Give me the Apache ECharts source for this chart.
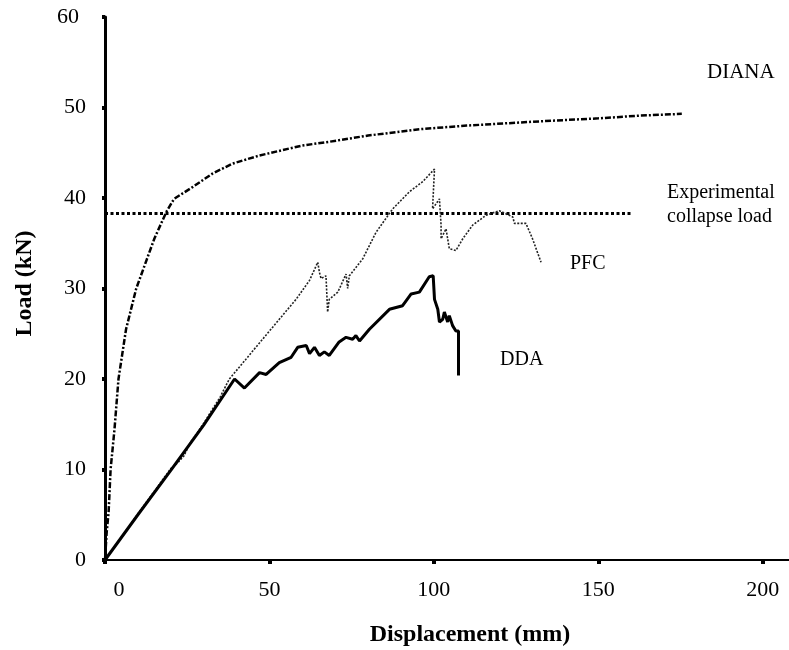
<!DOCTYPE html>
<html>
<head>
<meta charset="utf-8">
<script src="https://cdn.jsdelivr.net/npm/echarts@6/dist/echarts.min.js"></script>
<style>
  html, body { margin: 0; padding: 0; background: #fff; }
  #chart { width: 789px; height: 650px; }
</style>
</head>
<body>
<div id="chart"></div>
<script>
// displacement (mm), load (kN)
let dianaData = [
    [0, 0], [0.5, 3], [1.1, 5.3], [1.7, 10], [2.9, 14.5], [4.1, 20], [6.4, 25.5],
    [9.5, 30], [12.5, 33], [15, 35.5], [18.7, 38.5], [21, 39.9], [26.6, 41.2],
    [32.7, 42.7], [38.8, 43.8], [47, 44.7], [60, 45.8], [68, 46.2], [80, 46.9],
    [95.6, 47.6], [110, 48], [133.6, 48.5], [150, 48.8], [162.5, 49.1], [175.4, 49.3]
]

let pfcData = [
    [0, 0], [5, 2.5], [10, 5.1], [15, 7.6], [20, 10.1], [22, 10.7], [24, 11.5],
    [26, 13], [30, 15.1], [35, 18], [37.8, 20], [42.9, 22.2], [45.4, 23.3],
    [53, 26.6], [58.1, 28.8], [62.2, 30.9], [64.7, 32.9], [65.2, 31.8], [65.7, 31.1],
    [67.2, 31.4], [67.7, 27.4], [68.2, 28.8], [70.8, 29.6], [73.3, 31.6], [73.8, 30],
    [74.3, 31.4], [78.4, 33.3], [82.4, 36.2], [87.5, 38.8], [92.6, 40.7], [96.6, 41.8],
    [100.2, 43.2], [99.6, 38.8], [101.7, 39.9], [102.2, 37], [102.2, 35.5], [103.7, 36.6],
    [104.7, 34.4], [106.7, 34.2], [108.8, 35.5], [111.8, 37], [115.9, 38.1], [119.9, 38.6],
    [124, 37.9], [124.5, 37.2], [128, 37.2], [130, 35.5], [132.6, 32.9]
]

let ddaData = [
    [0, 0], [10, 5], [20, 9.9], [30, 14.9], [39.4, 20], [42.4, 19], [47, 20.7], [49, 20.5],
    [53, 21.8], [56.6, 22.4], [58.6, 23.5], [61.2, 23.7], [62.2, 22.8], [63.7, 23.5],
    [65.2, 22.6], [66.7, 23], [68.2, 22.6], [71.2, 24.1], [73.3, 24.6], [75.3, 24.4],
    [76.3, 24.8], [77.4, 24.2], [80.4, 25.5], [86.5, 27.7], [90.5, 28.1], [93.1, 29.4],
    [95.6, 29.6], [98.6, 31.3], [99.8, 31.4], [100.2, 28.8], [101.2, 27.7], [101.7, 26.3],
    [102.7, 26.6], [103.2, 27.4], [104.2, 26.3], [104.7, 27], [105.7, 25.9], [106.7, 25.3],
    [107.5, 25.3], [107.5, 20.4]
]

let collapseData = [[0, 38.3], [160, 38.3]]

let serif = '"Liberation Serif", "DejaVu Serif", serif'

let chart = echarts.init(document.getElementById('chart'))

let option = {
    animation: false,
    backgroundColor: '#fff',
    grid: {
        left: 105,
        right: 0,
        top: 17,
        bottom: 90,
        containLabel: false,
        outerBoundsMode: 'none'
    },
    xAxis: {
        type: 'value',
        min: 0,
        max: 208,
        interval: 50,
        name: 'Displacement (mm)',
        nameLocation: 'middle',
        nameGap: 63,
        nameTextStyle: {
            fontFamily: serif,
            fontSize: 24,
            fontWeight: 'bold',
            color: '#000',
            padding: [0, 0, 0, 46]
        },
        axisLine: { lineStyle: { color: '#000', width: 2 } },
        axisTick: { length: 4, lineStyle: { color: '#000', width: 4 } },
        axisLabel: {
            showMaxLabel: false,
            margin: 19,
            fontFamily: serif,
            fontSize: 22,
            color: '#000',
            formatter: function(v) {
                return v === 0 ? '{z|0}' : v
            },
            rich: {
                z: { fontFamily: serif, fontSize: 22, color: '#000', padding: [0, 0, 0, 28] }
            }
        },
        splitLine: { show: false }
    },
    yAxis: {
        type: 'value',
        min: 0,
        max: 60,
        interval: 10,
        name: 'Load (kN)',
        nameLocation: 'middle',
        nameGap: 68,
        nameTextStyle: {
            fontFamily: serif,
            fontSize: 24,
            fontWeight: 'bold',
            color: '#000',
            padding: [0, 0, 0, 10]
        },
        axisLine: { show: true, lineStyle: { color: '#000', width: 3 } },
        axisTick: { show: true, length: 3, lineStyle: { color: '#000', width: 4 } },
        axisLabel: {
            margin: 19,
            fontFamily: serif,
            fontSize: 22,
            color: '#000',
            formatter: function(v) {
                return v === 60 ? '{t|60}' : v
            },
            rich: {
                t: { fontFamily: serif, fontSize: 22, color: '#000', padding: [0, 7, 0, 0] }
            }
        },
        splitLine: { show: false }
    },
    series: [{
            name: 'DIANA',
            type: 'line',
            data: dianaData,
            symbol: 'none',
            lineStyle: { color: '#000', width: 2.5, type: [6, 2, 2, 2] },
            z: 3
        },
        {
            name: 'Experimental collapse load',
            type: 'line',
            data: collapseData,
            symbol: 'none',
            lineStyle: { color: '#000', width: 3, type: [3, 2.5] },
            z: 2
        },
        {
            name: 'PFC',
            type: 'line',
            data: pfcData,
            symbol: 'none',
            lineStyle: { color: '#222', width: 1.6, type: [2, 1.5] },
            z: 3
        },
        {
            name: 'DDA',
            type: 'line',
            data: ddaData,
            symbol: 'none',
            lineStyle: { color: '#000', width: 3 },
            z: 4
        }
    ],
    graphic: [
        { type: 'text', left: 707, top: 62, style: { text: 'DIANA', font: '21px ' + serif, fill: '#000' } },
        { type: 'text', left: 667, top: 181, style: { text: 'Experimental\ncollapse load', font: '20px ' + serif, fill: '#000', lineHeight: 24 } },
        { type: 'text', left: 570, top: 254, style: { text: 'PFC', font: '20px ' + serif, fill: '#000' } },
        { type: 'text', left: 500, top: 350, style: { text: 'DDA', font: '20px ' + serif, fill: '#000' } }
    ]
}

chart.setOption(option)
</script>
</body>
</html>
